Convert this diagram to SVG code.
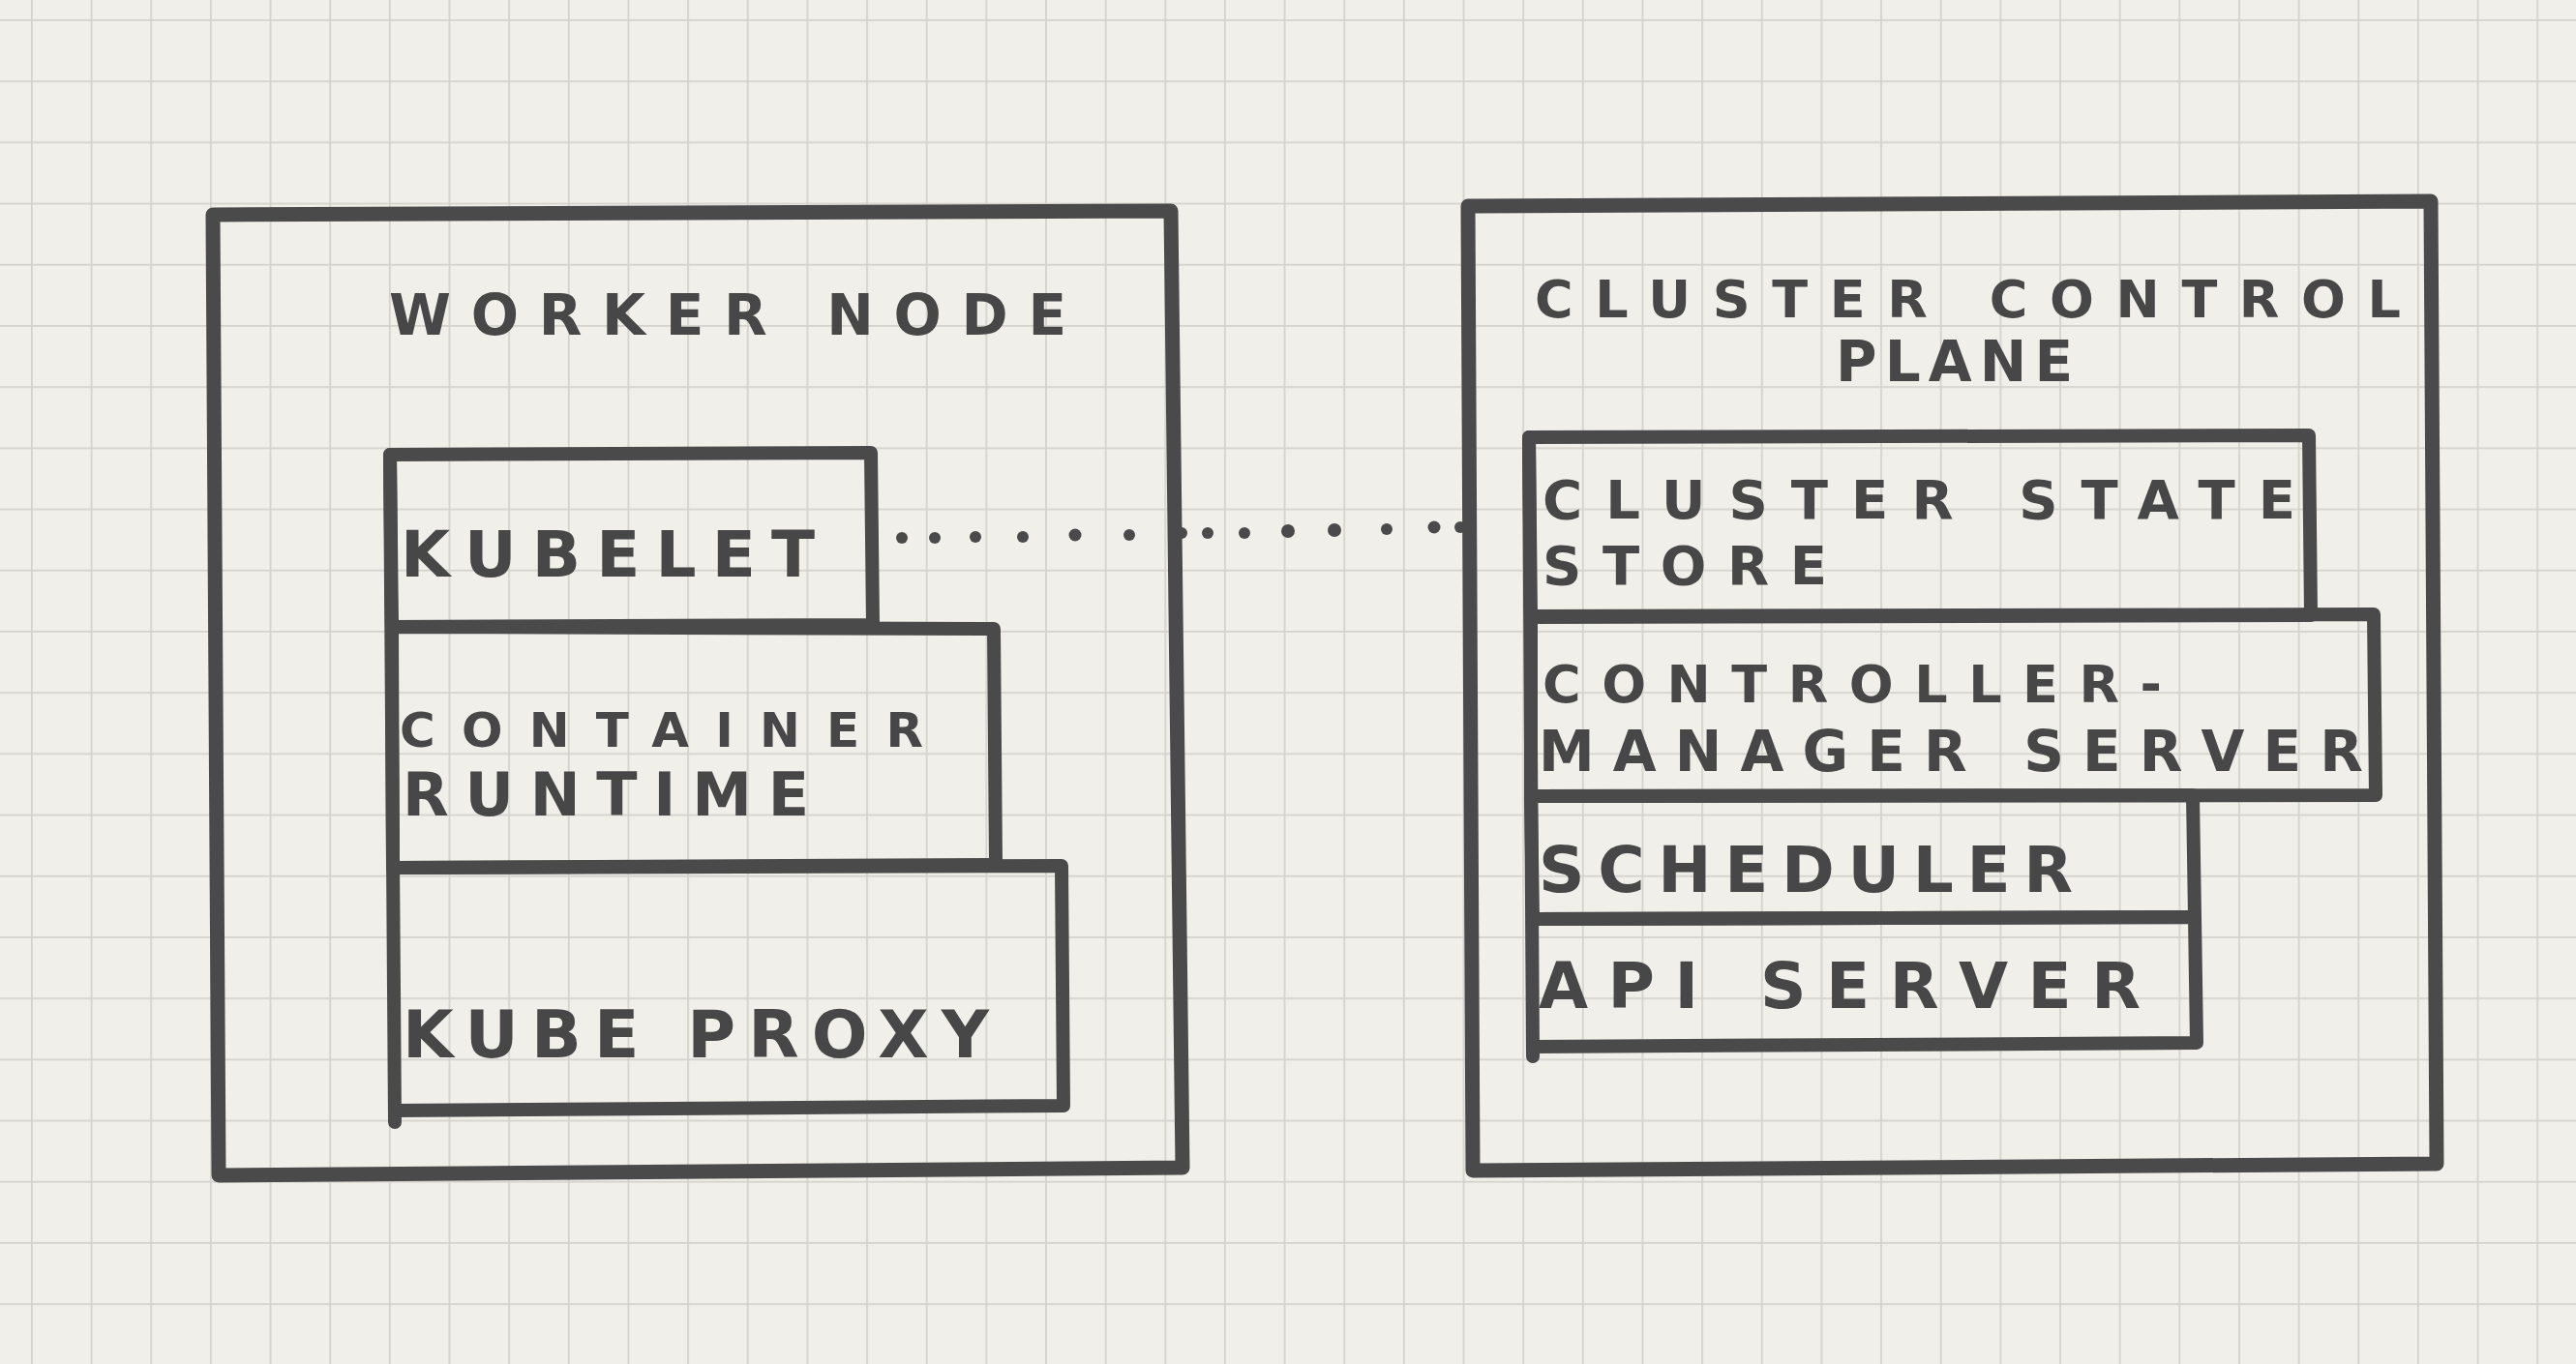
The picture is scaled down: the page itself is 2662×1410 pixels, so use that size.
<svg xmlns="http://www.w3.org/2000/svg" width="2662" height="1410" viewBox="0 0 2662 1410">
  <defs>
    <pattern id="grid" patternUnits="userSpaceOnUse" x="32" y="20" width="61.65" height="63.2">
      <path d="M0 0 V63.2 M0 0 H61.65" fill="none" stroke="#d3d2cd" stroke-width="3.5"/>
    </pattern>
  </defs>
  <style>
    .box { fill: none; stroke: #4a4a4a; stroke-width: 15; stroke-linejoin: round; stroke-linecap: round; }
    .inner { fill: none; stroke: #4a4a4a; stroke-width: 14; stroke-linejoin: round; stroke-linecap: round; }
    .lbl { font-family: "DejaVu Sans", "Liberation Sans", sans-serif; font-weight: bold; fill: #474747; }
    .dot { fill: #4a4a4a; }
  </style>
  <rect width="2662" height="1410" fill="#f0efea"/>
  <rect width="2662" height="1410" fill="url(#grid)"/>

  <g id="worker-node">
    <path class="box" d="M220 222 L1210 218 L1222 1207 L226 1215 Z"/>
    <text class="lbl" x="402" y="346" font-size="58" textLength="700" lengthAdjust="spacing">WORKER NODE</text>
  </g>
  <g id="kubelet">
    <path class="inner" d="M403 470 L900 468 L902 646 L405 648 Z"/>
    <text class="lbl" x="414" y="596" font-size="66" textLength="428" lengthAdjust="spacing">KUBELET</text>
  </g>
  <g id="container-runtime">
    <path class="inner" d="M405 648 L1027 650 L1029 894 L406 897 Z"/>
    <text class="lbl" x="413" y="772" font-size="50" textLength="541" lengthAdjust="spacing">CONTAINER</text>
    <text class="lbl" x="416" y="843" font-size="62" textLength="420" lengthAdjust="spacing">RUNTIME</text>
  </g>
  <g id="kube-proxy">
    <path class="inner" d="M406 897 L1097 895 L1099 1143 L408 1148"/>
    <path class="inner" d="M403 470 L408 1160"/>
    <text class="lbl" x="416" y="1093" font-size="68" textLength="606" lengthAdjust="spacing">KUBE PROXY</text>
  </g>

  <g id="cluster-control-plane">
    <path class="box" d="M1517 213 L2512 208 L2518 1203 L1522 1210 Z"/>
    <text class="lbl" x="1586" y="328" font-size="54" textLength="895" lengthAdjust="spacing">CLUSTER CONTROL</text>
    <text class="lbl" x="1897" y="394" font-size="58" textLength="245" lengthAdjust="spacing">PLANE</text>
  </g>
  <g id="cluster-state-store">
    <path class="inner" d="M1580 452 L2386 450 L2388 636 L1582 638 Z"/>
    <text class="lbl" x="1594" y="536" font-size="56" textLength="778" lengthAdjust="spacing">CLUSTER STATE</text>
    <text class="lbl" x="1594" y="604" font-size="56" textLength="294" lengthAdjust="spacing">STORE</text>
  </g>
  <g id="controller-manager-server">
    <path class="inner" d="M1582 637 L2453 635 L2455 822 L1582 823 Z"/>
    <text class="lbl" x="1594" y="726" font-size="54" textLength="640" lengthAdjust="spacing">CONTROLLER-</text>
    <text class="lbl" x="1590" y="797" font-size="58" textLength="852" lengthAdjust="spacing">MANAGER SERVER</text>
  </g>
  <g id="scheduler">
    <path class="inner" d="M1582 823 L2266 822 L2268 948 L1584 950 Z"/>
    <text class="lbl" x="1590" y="922" font-size="66" textLength="552" lengthAdjust="spacing">SCHEDULER</text>
  </g>
  <g id="api-server">
    <path class="inner" d="M1584 950 L2268 948 L2270 1078 L1584 1082"/>
    <path class="inner" d="M1580 452 L1584 1092"/>
    <text class="lbl" x="1590" y="1042" font-size="66" textLength="622" lengthAdjust="spacing">API SERVER</text>
  </g>

  <g id="connectors">
    <g id="kubelet-to-control-plane">
      <circle class="dot" cx="932" cy="556" r="6"/>
      <circle class="dot" cx="966" cy="556" r="6"/>
      <circle class="dot" cx="1008" cy="555" r="6"/>
      <circle class="dot" cx="1057" cy="555" r="6"/>
      <circle class="dot" cx="1111" cy="553" r="6.5"/>
      <circle class="dot" cx="1167" cy="553" r="6"/>
      <circle class="dot" cx="1221" cy="551" r="6"/>
      <circle class="dot" cx="1248" cy="551" r="6"/>
      <circle class="dot" cx="1286" cy="551" r="6"/>
      <circle class="dot" cx="1331" cy="549" r="7"/>
      <circle class="dot" cx="1379" cy="548" r="7"/>
      <circle class="dot" cx="1433" cy="547" r="6"/>
      <circle class="dot" cx="1482" cy="545" r="6.5"/>
      <circle class="dot" cx="1509" cy="545" r="6"/>
    </g>
  </g>
</svg>
